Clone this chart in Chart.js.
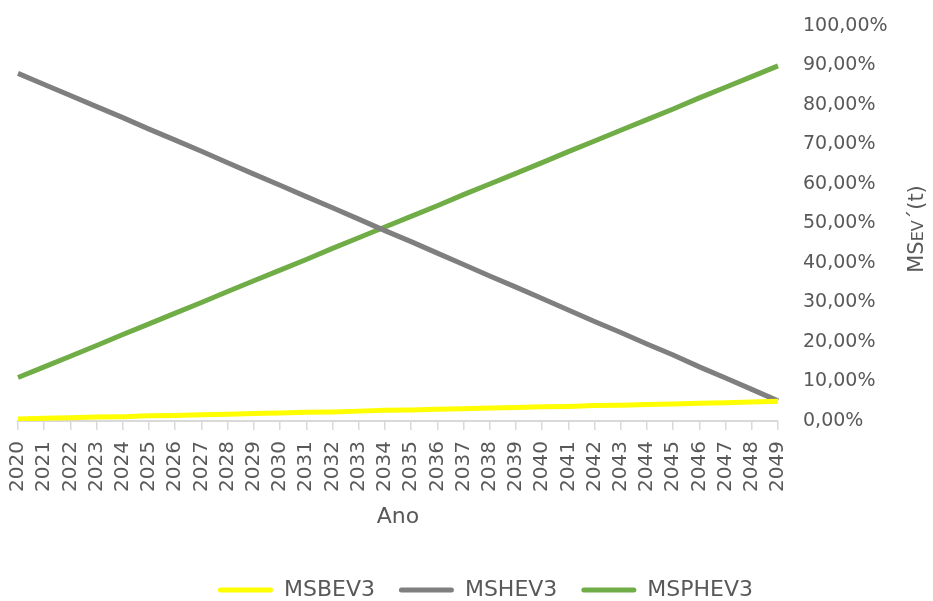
<!DOCTYPE html>
<html>
<head>
<meta charset="utf-8">
<script src="https://cdn.jsdelivr.net/npm/chart.js@4.4.1/dist/chart.umd.min.js"></script>
<style>
  html, body { margin: 0; padding: 0; background: #ffffff; overflow: hidden; }
  #wrap { width: 933px; height: 601px; position: relative; }
</style>
</head>
<body>
<div id="wrap"><canvas id="c" width="933" height="601"></canvas></div>
<script>
// Years on the horizontal axis
const years = [
  '2020','2021','2022','2023','2024','2025','2026','2027','2028','2029',
  '2030','2031','2032','2033','2034','2035','2036','2037','2038','2039',
  '2040','2041','2042','2043','2044','2045','2046','2047','2048','2049'
];

// Market share per vehicle type (%)
const msbev3 = [
  0.5, 0.7, 0.8, 1.0, 1.1, 1.3, 1.4, 1.6, 1.7, 1.9,
  2.0, 2.2, 2.3, 2.5, 2.7, 2.8, 3.0, 3.1, 3.3, 3.4,
  3.6, 3.7, 3.9, 4.0, 4.2, 4.3, 4.5, 4.6, 4.8, 5.0
];
const mshev3 = [
  88.0, 85.2, 82.4, 79.6, 76.8, 73.9, 71.1, 68.3, 65.4, 62.5,
  59.7, 56.8, 54.0, 51.1, 48.2, 45.4, 42.5, 39.6, 36.7, 33.9,
  31.0, 28.1, 25.2, 22.4, 19.5, 16.7, 13.7, 10.9, 8.0, 5.1
];
const msphev3 = [
  11.0, 13.7, 16.4, 19.1, 21.9, 24.6, 27.3, 30.0, 32.8, 35.5,
  38.2, 40.9, 43.7, 46.4, 49.1, 51.8, 54.5, 57.3, 60.0, 62.7,
  65.4, 68.2, 70.9, 73.6, 76.3, 79.0, 81.8, 84.5, 87.2, 89.9
];

// Right-hand axis ticks
const yTicks = [0, 10, 20, 30, 40, 50, 60, 70, 80, 90, 100];

const textColor = '#595959';
const FONT = "'DejaVu Sans', sans-serif";

function series(label, data, color) {
  return {
    label: label,
    data: data,
    borderColor: color,
    backgroundColor: color,
    borderWidth: 5,
    pointRadius: 0,
    pointHoverRadius: 0,
    tension: 0,
    fill: false
  };
}

// Vertical title on the right, with the "EV" part set smaller
const rightTitle = {
  id: 'rightTitle',
  afterDraw(chart) {
    const ctx = chart.ctx;
    const parts = [
      { t: 'MS', size: 21 },
      { t: 'EV', size: 16 },
      { t: '\u00B4(t)', size: 21 }
    ];
    ctx.save();
    let total = 0;
    parts.forEach(p => {
      ctx.font = p.size + 'px ' + FONT;
      p.w = ctx.measureText(p.t).width;
      total += p.w;
    });
    ctx.translate(916, 229);
    ctx.rotate(-Math.PI / 2);
    ctx.fillStyle = textColor;
    ctx.textBaseline = 'alphabetic';
    ctx.textAlign = 'left';
    let x = -total / 2;
    parts.forEach(p => {
      ctx.font = p.size + 'px ' + FONT;
      ctx.fillText(p.t, x, 7);
      x += p.w;
    });
    ctx.restore();
  }
};

// Nudge the legend row to the right of the canvas centre
const legendShift = {
  id: 'legendShift',
  afterLayout(chart) {
    const lg = chart.legend;
    if (lg) { lg.left += 10; lg.right += 10; }
  }
};

new Chart(document.getElementById('c'), {
  type: 'line',
  data: {
    labels: years,
    datasets: [
      series('MSBEV3', msbev3, '#FFFF00'),
      series('MSHEV3', mshev3, '#7F7F7F'),
      series('MSPHEV3', msphev3, '#70AD47')
    ]
  },
  options: {
    responsive: false,
    animation: false,
    events: [],
    layout: { padding: { top: 26, left: 18, right: 0, bottom: -10 } },
    scales: {
      x: {
        type: 'category',
        offset: false,
        grid: {
          display: true,
          drawOnChartArea: false,
          drawTicks: true,
          tickLength: 9,
          color: '#D9D9D9',
          lineWidth: 1.5
        },
        border: { display: true, color: '#D9D9D9', width: 2 },
        ticks: {
          autoSkip: false,
          minRotation: 90,
          maxRotation: 90,
          padding: 11,
          color: textColor,
          font: { family: FONT, size: 20 }
        },
        title: {
          display: true,
          text: 'Ano',
          color: textColor,
          font: { family: FONT, size: 22 },
          padding: { top: 0, bottom: 25 }
        },
        afterFit(scale) { scale.height = 134; }
      },
      y: {
        position: 'right',
        min: 0,
        max: 100,
        afterBuildTicks(scale) { scale.ticks = yTicks.map(v => ({ value: v })); },
        grid: { display: false, drawTicks: true, tickLength: 11 },
        border: { display: false },
        ticks: {
          padding: 14,
          color: textColor,
          font: { family: FONT, size: 19 },
          callback: v => v.toFixed(2).replace('.', ',') + '%'
        },
        afterFit(scale) { scale.width = 155; }
      }
    },
    plugins: {
      legend: {
        position: 'bottom',
        labels: {
          boxWidth: 55,
          boxHeight: 5,
          padding: 24,
          color: textColor,
          font: { family: FONT, size: 22 },
          useBorderRadius: true,
          borderRadius: 2.5,
          generateLabels(chart) {
            const items = Chart.defaults.plugins.legend.labels.generateLabels(chart);
            items.forEach(it => { it.lineWidth = 0; });
            return items;
          }
        }
      },
      tooltip: { enabled: false }
    }
  },
  plugins: [rightTitle, legendShift]
});
</script>
</body>
</html>
